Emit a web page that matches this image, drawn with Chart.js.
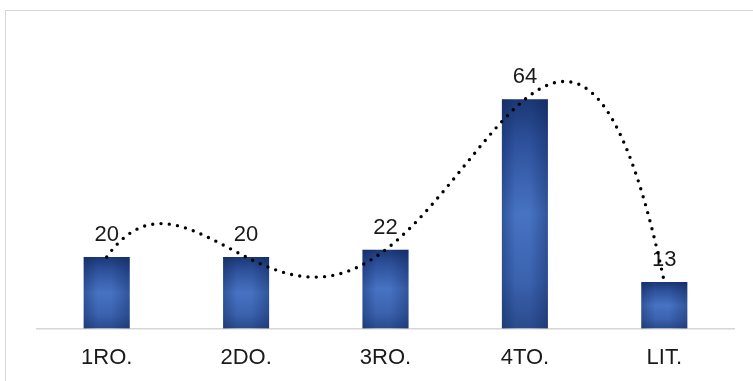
<!DOCTYPE html>
<html>
<head>
<meta charset="utf-8">
<script src="https://cdn.jsdelivr.net/npm/chart.js@4/dist/chart.umd.min.js"></script>
<style>
  html, body { margin: 0; padding: 0; background: #ffffff; overflow: hidden; }
  #wrap { position: relative; width: 753px; height: 381px; overflow: hidden; }
  #frame { position: absolute; left: 5px; top: 10px; width: 800px; height: 420px;
           border: 1.5px solid #d6d6d6; box-sizing: border-box; }
  #chart { position: absolute; left: 0; top: 0; }
</style>
</head>
<body>
<div id="wrap">
  <div id="frame"></div>
  <canvas id="chart" width="753" height="391"></canvas>
</div>
<script>
// Grades and student counts
const categories = ['1RO.', '2DO.', '3RO.', '4TO.', 'LIT.'];
const students = [20, 20, 22, 64, 13];
const trendOrder = 4;

const FONT = '"Liberation Sans", Arial, sans-serif';

// Least-squares polynomial fit y = sum c_k x^k, x = 1..n
function polyFit(ys, order) {
  const n = order + 1;
  const A = Array.from({ length: n }, () => new Array(n + 1).fill(0));
  ys.forEach((yv, i) => {
    const xv = i + 1;
    for (let r = 0; r < n; r++) {
      for (let c = 0; c < n; c++) A[r][c] += Math.pow(xv, r + c);
      A[r][n] += yv * Math.pow(xv, r);
    }
  });
  for (let p = 0; p < n; p++) {
    let best = p;
    for (let r = p + 1; r < n; r++) if (Math.abs(A[r][p]) > Math.abs(A[best][p])) best = r;
    [A[p], A[best]] = [A[best], A[p]];
    for (let r = 0; r < n; r++) {
      if (r === p) continue;
      const f = A[r][p] / A[p][p];
      for (let c = p; c <= n; c++) A[r][c] -= f * A[p][c];
    }
  }
  return A.map((row, i) => row[n] / row[i]);
}
const coeffs = polyFit(students, trendOrder);
const evalPoly = (x) => coeffs.reduce((s, c, k) => s + c * Math.pow(x, k), 0);

// Vertical shading of each column: dark top, lighter middle, deeper bottom
function columnFill(ctx) {
  const chart = ctx.chart;
  if (!chart.chartArea || !chart.scales.y) return '#3a63ad';
  const ys = chart.scales.y;
  const top = ys.getPixelForValue(ctx.raw);
  const bottom = ys.getPixelForValue(0);
  if (!isFinite(top) || !isFinite(bottom) || bottom - top < 1) return '#3a63ad';
  const g = chart.ctx.createLinearGradient(0, top, 0, bottom);
  g.addColorStop(0, '#1b3774');
  g.addColorStop(0.18, '#2d509a');
  g.addColorStop(0.5, '#4773c3');
  g.addColorStop(0.8, '#3a62ae');
  g.addColorStop(1, '#2a4a8c');
  return g;
}

// Darkened side edges on the columns
const edgeShade = {
  id: 'edgeShade',
  afterDatasetDraw(chart, args) {
    if (args.index !== 0) return;
    const ctx = chart.ctx;
    args.meta.data.forEach((bar) => {
      const { x, y, base, width } = bar.getProps(['x', 'y', 'base', 'width'], true);
      const left = x - width / 2;
      const g = ctx.createLinearGradient(left, 0, left + width, 0);
      g.addColorStop(0, 'rgba(10,30,80,0.35)');
      g.addColorStop(0.3, 'rgba(10,30,80,0.0)');
      g.addColorStop(0.6, 'rgba(10,30,80,0.0)');
      g.addColorStop(1, 'rgba(10,30,80,0.35)');
      ctx.save();
      ctx.fillStyle = g;
      ctx.fillRect(left, y, width, base - y);
      ctx.restore();
    });
  }
};

// Value labels above the columns
const valueLabels = {
  id: 'valueLabels',
  afterDatasetsDraw(chart) {
    const ctx = chart.ctx;
    const meta = chart.getDatasetMeta(0);
    ctx.save();
    ctx.font = '22px ' + FONT;
    ctx.fillStyle = '#1a1a1a';
    ctx.textAlign = 'center';
    ctx.textBaseline = 'alphabetic';
    meta.data.forEach((bar, i) => {
      ctx.fillText(String(students[i]), bar.x, bar.y - 16);
    });
    ctx.restore();
  }
};

// Dotted polynomial trendline over the columns
const trendline = {
  id: 'trendline',
  afterDatasetsDraw(chart) {
    const ctx = chart.ctx;
    const xs = chart.scales.x, ys = chart.scales.y;
    const n = students.length;
    ctx.save();
    ctx.beginPath();
    const steps = 400;
    for (let s = 0; s <= steps; s++) {
      const t = (n - 1) * s / steps;
      const px = xs.getPixelForValue(t);
      const py = ys.getPixelForValue(evalPoly(t + 1));
      if (s === 0) ctx.moveTo(px, py); else ctx.lineTo(px, py);
    }
    ctx.strokeStyle = '#000000';
    ctx.lineWidth = 3.4;
    ctx.lineCap = 'round';
    ctx.setLineDash([0, 8.3]);
    ctx.stroke();
    ctx.restore();
  }
};

new Chart(document.getElementById('chart'), {
  type: 'bar',
  data: {
    labels: categories,
    datasets: [{
      data: students,
      backgroundColor: columnFill,
      borderWidth: 0,
      barPercentage: 0.33,
      categoryPercentage: 1
    }]
  },
  options: {
    responsive: false,
    animation: false,
    events: [],
    layout: { padding: { left: 37, right: 19, top: 42, bottom: 4 } },
    plugins: { legend: { display: false }, tooltip: { enabled: false } },
    scales: {
      x: {
        grid: { display: false, drawTicks: false },
        border: { display: true, color: '#d6d6d6', width: 1.5 },
        ticks: { color: '#1a1a1a', font: { family: FONT, size: 22 }, padding: 16 }
      },
      y: {
        display: false,
        min: 0,
        max: 80
      }
    }
  },
  plugins: [edgeShade, valueLabels, trendline]
});
</script>
</body>
</html>
